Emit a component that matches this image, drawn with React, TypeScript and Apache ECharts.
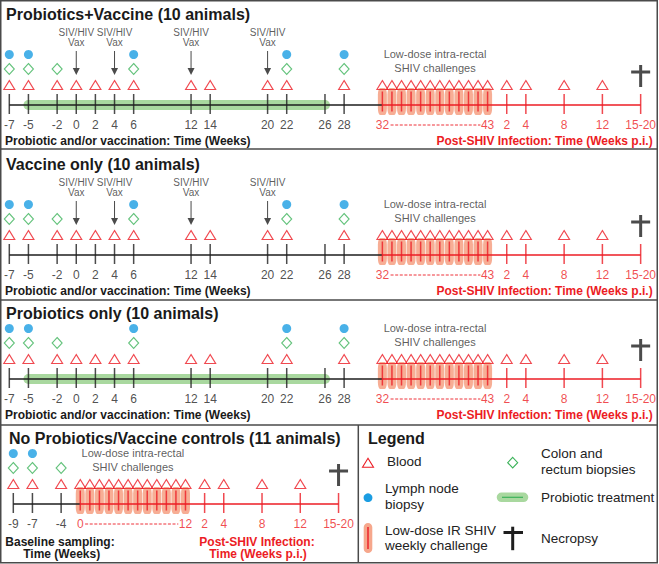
import React, { useEffect, useRef } from 'react';
import * as echarts from 'echarts';

// ---------------- data ----------------
const studyWeeks = [-7, -5, -2, 0, 2, 4, 6, 12, 14, 20, 22, 26, 28];
const vaxWeeks = [0, 4, 12, 20];
const bloodWeeks = [-7, -5, -2, 0, 2, 4, 6, 12, 14, 20, 22, 28];
const colonWeeks = [-7, -5, -2, 6, 22, 28];
const lymphWeeks = [-7, -5, 6, 22, 28];
const probioticWeeks = [-5, 26];
const challengeWeeks = [32, 33, 34, 35, 36, 37, 38, 39, 40, 41, 42, 43];
const piWeeks = [2, 4, 8, 12];
const necropsyLabel = '15-20';
const necropsyPiPos = 16;

const ctrlBaselineWeeks = [-9, -7, -4];
const ctrlBloodWeeks = [-9, -7, -4];
const ctrlColonWeeks = [-9, -7, -4];
const ctrlLymphWeeks = [-9, -7];
const ctrlChallengeWeeks = [0, 1, 2, 3, 4, 5, 6, 7, 8, 9, 10, 11];
const ctrlChallengeLabels = ['0', '12'];

// ---------------- styles / layout ----------------
const RED = '#ec1c24';
const BLACK = '#1e1e1e';
const BLUE = '#1b9de2';
const GREEN = '#3cb35a';
const BAND = '#a9d89f';
const SALMON = '#f6a78c';
const TXT = '#222';
const FONT = 'Arial, "Liberation Sans", Helvetica, sans-serif';
const SCALE = 9.566; // px per week
const CTRL_SHIFT = -2; // position of control challenge 0 on the baseline axis

const ROW = { label: -20, tick: 1, challenge: 3.5, blood: 20, colon: 36, lymph: 50.5, necropsy: 29, arrow: 42, challengeText: 44 };

const ARROW = 'path://M3,0 L4,0 L4,17 L7,17 L3.5,24 L0,17 L3,17 Z';
const CROSS = 'path://M8,0 H11 V5.5 H19 V8.5 H11 V22 H8 V8.5 H0 V5.5 H8 Z';

interface Timeline {
  grid: number;
  start: number;
  baseTicks: { x: number; label: string }[];
  challengeXs: number[];
  challengeLabels: string[];
  piTicks: { x: number; label: string }[];
  necX: number;
  blood: number[];
  colon: number[];
  lymph: number[];
  vax: number[];
  band?: number[];
}

function timelineSeries(t: Timeline): any[] {
  const ax = { xAxisIndex: t.grid, yAxisIndex: t.grid, clip: false, silent: true };
  const first = t.challengeXs[0];
  const last = t.challengeXs[t.challengeXs.length - 1];
  const s: any[] = [];
  const labelSeries = (items: { x: number; label: string }[], color: string) => ({
    type: 'scatter', ...ax,
    data: items.map((d) => ({ value: [d.x, ROW.label], name: d.label })),
    symbolSize: 1, itemStyle: { color: 'rgba(0,0,0,0)' },
    label: { show: true, position: 'inside', formatter: '{b}', color, fontSize: 12, fontFamily: FONT },
    z: 6,
  });
  if (t.band) {
    s.push({ type: 'line', ...ax, data: t.band.map((x) => [x, 0]), symbol: 'none', lineStyle: { color: BAND, width: 10, cap: 'round' }, z: 1 });
  }
  s.push({ type: 'scatter', ...ax, data: t.challengeXs.map((x) => [x, ROW.challenge]), symbol: 'roundRect', symbolSize: [9, 27], itemStyle: { color: SALMON, opacity: 0.92 }, z: 2 });
  s.push({ type: 'line', ...ax, data: [[t.start, 0], [first, 0]], symbol: 'none', lineStyle: { color: BLACK, width: 1.3 }, z: 3 });
  s.push({ type: 'line', ...ax, data: [[first, 0], [t.necX, 0]], symbol: 'none', lineStyle: { color: RED, width: 1.3 }, z: 3 });
  s.push({ type: 'scatter', ...ax, data: t.baseTicks.map((d) => [d.x, ROW.tick]), symbol: 'rect', symbolSize: [1.5, 20], itemStyle: { color: BLACK }, z: 4 });
  s.push({ type: 'scatter', ...ax, data: t.challengeXs.map((x) => [x, ROW.challenge]), symbol: 'rect', symbolSize: [1.5, 20], itemStyle: { color: RED }, z: 4 });
  s.push({ type: 'scatter', ...ax, data: [...t.piTicks.map((d) => [d.x, ROW.tick]), [t.necX, ROW.tick]], symbol: 'rect', symbolSize: [1.5, 20], itemStyle: { color: RED }, z: 4 });
  s.push(labelSeries(t.baseTicks, TXT));
  s.push(labelSeries([{ x: first, label: t.challengeLabels[0] }, { x: last, label: t.challengeLabels[1] }, ...t.piTicks, { x: t.necX, label: necropsyLabel }], RED));
  const l0 = t.challengeLabels[0].length * 3.35 + 1.5;
  const l1 = t.challengeLabels[1].length * 3.35 + 0.5;
  s.push({ type: 'line', ...ax, data: [[first + l0 / SCALE, ROW.label], [last - l1 / SCALE, ROW.label]], symbol: 'none', lineStyle: { color: RED, width: 0.9, type: [3, 1.6] }, z: 5 });
  // samples
  s.push({ type: 'scatter', ...ax, data: [...t.blood, ...t.challengeXs, ...t.piTicks.map((d) => d.x)].map((x) => [x, ROW.blood]), symbol: 'triangle', symbolSize: [11, 9], itemStyle: { color: 'rgba(0,0,0,0)', borderColor: RED, borderWidth: 1.1 }, z: 5 });
  s.push({ type: 'scatter', ...ax, data: t.colon.map((x) => [x, ROW.colon]), symbol: 'diamond', symbolSize: [10, 11], itemStyle: { color: 'rgba(0,0,0,0)', borderColor: GREEN, borderWidth: 1.1 }, z: 5 });
  s.push({ type: 'scatter', ...ax, data: t.lymph.map((x) => [x, ROW.lymph]), symbol: 'circle', symbolSize: 9, itemStyle: { color: BLUE }, z: 5 });
  if (t.vax.length) {
    s.push({
      type: 'scatter', ...ax, data: t.vax.map((x) => [x, ROW.arrow]), symbol: ARROW, symbolSize: [7, 24], itemStyle: { color: BLACK }, z: 5,
      label: { show: true, position: 'top', distance: 3, formatter: 'SIV/HIV\nVax', color: '#333', fontSize: 10, lineHeight: 10.5, fontFamily: FONT },
    });
  }
  s.push({
    type: 'scatter', ...ax, data: [[(first + last) / 2, ROW.challengeText]], symbolSize: 1, itemStyle: { color: 'rgba(0,0,0,0)' }, z: 5,
    label: { show: true, position: 'inside', formatter: 'Low-dose intra-rectal\nSHIV challenges', color: '#333', fontSize: 11, lineHeight: 14, fontFamily: FONT },
  });
  s.push({ type: 'scatter', ...ax, data: [[t.necX, ROW.necropsy]], symbol: CROSS, symbolSize: [19, 22], itemStyle: { color: BLACK }, z: 5 });
  return s;
}

const mainPanels = [
  { axisY: 105, titleY: 14, probiotic: true, vaccine: true, title: 'Probiotics+Vaccine (10 animals)' },
  { axisY: 255, titleY: 164, probiotic: false, vaccine: true, title: 'Vaccine only (10 animals)' },
  { axisY: 379, titleY: 313, probiotic: true, vaccine: false, title: 'Probiotics only (10 animals)' },
];
const CTRL_AXIS_Y = 504;

function buildOption() {
  const grids: any[] = [];
  const xAxes: any[] = [];
  const yAxes: any[] = [];
  const series: any[] = [];
  const graphic: any[] = [];
  const lastCh = challengeWeeks[challengeWeeks.length - 1];

  mainPanels.forEach((p, i) => {
    grids.push({ left: 9.3, width: 66 * SCALE, top: p.axisY - 100, height: 140, outerBoundsMode: 'none' });
    xAxes.push({ type: 'value', gridIndex: i, min: -7, max: 59, show: false });
    yAxes.push({ type: 'value', gridIndex: i, min: -40, max: 100, show: false });
    series.push(...timelineSeries({
      grid: i,
      start: studyWeeks[0],
      baseTicks: studyWeeks.map((w) => ({ x: w, label: String(w) })),
      challengeXs: challengeWeeks,
      challengeLabels: [String(challengeWeeks[0]), String(lastCh)],
      piTicks: piWeeks.map((w) => ({ x: lastCh + w, label: String(w) })),
      necX: lastCh + necropsyPiPos,
      blood: bloodWeeks,
      colon: colonWeeks,
      lymph: lymphWeeks,
      vax: p.vaccine ? vaxWeeks : [],
      band: p.probiotic ? probioticWeeks : undefined,
    }));
    graphic.push({ type: 'text', x: 6, y: p.titleY, style: { text: p.title, font: `bold 16px ${FONT}`, fill: '#1a1a1a', verticalAlign: 'middle' } });
    graphic.push({ type: 'text', x: 5, y: p.axisY + 35.5, style: { text: 'Probiotic and/or vaccination: Time (Weeks)', font: `bold 12px ${FONT}`, fill: '#1a1a1a', verticalAlign: 'middle' } });
    graphic.push({ type: 'text', x: 652.7, y: p.axisY + 35.5, style: { text: 'Post-SHIV Infection: Time (Weeks p.i.)', font: `bold 12px ${FONT}`, fill: RED, align: 'right', verticalAlign: 'middle' } });
  });

  // control panel
  const ctrlPos = ctrlChallengeWeeks.map((w) => w + CTRL_SHIFT);
  const ctrlLast = ctrlPos[ctrlPos.length - 1];
  grids.push({ left: 13.3, width: 34 * SCALE, top: CTRL_AXIS_Y - 100, height: 140, outerBoundsMode: 'none' });
  xAxes.push({ type: 'value', gridIndex: 3, min: -9, max: 25, show: false });
  yAxes.push({ type: 'value', gridIndex: 3, min: -40, max: 100, show: false });
  series.push(...timelineSeries({
    grid: 3,
    start: ctrlBaselineWeeks[0],
    baseTicks: ctrlBaselineWeeks.map((w) => ({ x: w, label: String(w) })),
    challengeXs: ctrlPos,
    challengeLabels: ctrlChallengeLabels,
    piTicks: piWeeks.map((w) => ({ x: ctrlLast + w, label: String(w) })),
    necX: ctrlLast + necropsyPiPos,
    blood: ctrlBloodWeeks,
    colon: ctrlColonWeeks,
    lymph: ctrlLymphWeeks,
    vax: [],
  }));

  const t = (x: number, y: number, text: string, font: string, fill: string, align = 'left') => ({
    type: 'text', x, y, style: { text, font, fill, align, verticalAlign: 'middle' },
  });
  graphic.push(t(9, 438, 'No Probiotics/Vaccine controls (11 animals)', `bold 16px ${FONT}`, '#1a1a1a'));
  graphic.push(t(60, 541.7, 'Baseline sampling:', `bold 12px ${FONT}`, '#1a1a1a', 'center'));
  graphic.push(t(61.7, 554.3, 'Time (Weeks)', `bold 12px ${FONT}`, '#1a1a1a', 'center'));
  graphic.push(t(257, 541.7, 'Post-SHIV Infection:', `bold 12px ${FONT}`, RED, 'center'));
  graphic.push(t(258, 554.3, 'Time (Weeks p.i.)', `bold 12px ${FONT}`, RED, 'center'));

  // frame
  const lineStyle = { stroke: '#4a4a4a', lineWidth: 1.5 };
  graphic.push({ type: 'rect', shape: { x: 0.75, y: 0.75, width: 656.5, height: 562 }, style: { fill: 'none', ...lineStyle } });
  [149, 300, 425].forEach((y) => graphic.push({ type: 'line', shape: { x1: 0, y1: y, x2: 658, y2: y }, style: lineStyle }));
  graphic.push({ type: 'line', shape: { x1: 358.3, y1: 425, x2: 358.3, y2: 563 }, style: lineStyle });

  // legend
  const lf = `13.5px ${FONT}`;
  graphic.push(t(368, 438, 'Legend', `bold 16px ${FONT}`, '#1a1a1a'));
  graphic.push({ type: 'polygon', shape: { points: [[362.5, 467.2], [368, 458.2], [373.5, 467.2]] }, style: { fill: 'none', stroke: RED, lineWidth: 1.1 } });
  graphic.push(t(387, 461.5, 'Blood', lf, TXT));
  graphic.push({ type: 'circle', shape: { cx: 368, cy: 497.7, r: 4.4 }, style: { fill: BLUE } });
  graphic.push(t(385, 488.5, 'Lymph node', lf, TXT));
  graphic.push(t(385, 504.5, 'biopsy', lf, TXT));
  graphic.push({ type: 'rect', shape: { x: 363.7, y: 523, width: 8.6, height: 30, r: 4.3 }, style: { fill: SALMON } });
  graphic.push({ type: 'line', shape: { x1: 368, y1: 527, x2: 368, y2: 549 }, style: { stroke: RED, lineWidth: 1.4 } });
  graphic.push(t(385, 530.5, 'Low-dose IR SHIV', lf, TXT));
  graphic.push(t(385, 545.5, 'weekly challenge', lf, TXT));
  graphic.push({ type: 'polygon', shape: { points: [[512.7, 457.4], [517.7, 462.7], [512.7, 468], [507.7, 462.7]] }, style: { fill: 'none', stroke: GREEN, lineWidth: 1.1 } });
  graphic.push(t(541, 453.5, 'Colon and', lf, TXT));
  graphic.push(t(541, 469.5, 'rectum biopsies', lf, TXT));
  graphic.push({ type: 'rect', shape: { x: 496.7, y: 492.5, width: 31.6, height: 9.6, r: 4.8 }, style: { fill: BAND } });
  graphic.push({ type: 'line', shape: { x1: 502, y1: 497.3, x2: 523, y2: 497.3 }, style: { stroke: GREEN, lineWidth: 1.2 } });
  graphic.push(t(541, 497.5, 'Probiotic treatment', lf, TXT));
  graphic.push({ type: 'rect', shape: { x: 511.2, y: 526.7, width: 3, height: 23.5 }, style: { fill: BLACK } });
  graphic.push({ type: 'rect', shape: { x: 503.5, y: 531, width: 19.5, height: 3 }, style: { fill: BLACK } });
  graphic.push(t(541, 538, 'Necropsy', lf, TXT));

  return {
    animation: false,
    backgroundColor: '#fff',
    tooltip: { show: false },
    grid: grids,
    xAxis: xAxes,
    yAxis: yAxes,
    series,
    graphic,
  };
}

export default function App() {
  const ref = useRef<HTMLDivElement>(null);
  useEffect(() => {
    if (!ref.current) return;
    const chart = echarts.init(ref.current, undefined, { renderer: 'svg' });
    chart.setOption(buildOption() as any);
    return () => chart.dispose();
  }, []);
  return <div ref={ref} style={{ position: 'absolute', left: 0, top: 0, width: 659, height: 564 }} />;
}
